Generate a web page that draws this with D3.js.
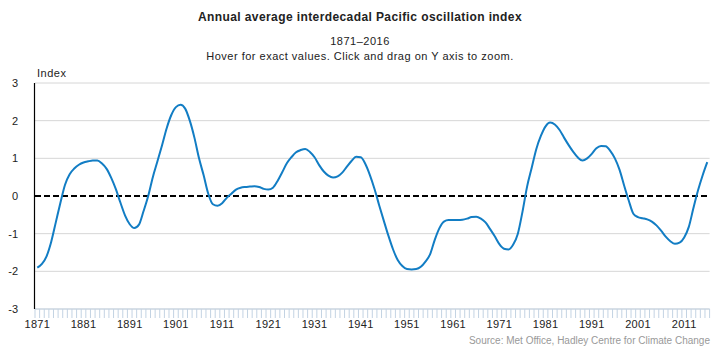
<!DOCTYPE html>
<html>
<head>
<meta charset="utf-8">
<script src="https://cdn.jsdelivr.net/npm/d3@7"></script>
<style>
  body { margin: 0; background: #fff; }
  svg { font-family: "Liberation Sans", Arial, sans-serif; }
</style>
</head>
<body>
<div class="ipo"></div>
<script>
const firstYear = 1871
const lastYear = 2016
const years = d3.range(firstYear, lastYear + 1)

// annual IPO index (1871..2016)
const ipoValues = [
  -1.90, -1.80, -1.60, -1.22, -0.70, -0.18, 0.30, 0.58, 0.73, 0.83,
  0.89, 0.92, 0.94, 0.94, 0.86, 0.72, 0.48, 0.18, -0.18, -0.52,
  -0.75, -0.85, -0.76, -0.40, 0.00, 0.50, 0.92, 1.35, 1.80, 2.15,
  2.36, 2.42, 2.32, 2.00, 1.55, 1.00, 0.55, 0.06, -0.22, -0.26,
  -0.19, -0.05, 0.06, 0.17, 0.22, 0.24, 0.25, 0.26, 0.24, 0.19,
  0.17, 0.22, 0.40, 0.63, 0.87, 1.03, 1.16, 1.22, 1.25, 1.17,
  1.03, 0.82, 0.65, 0.54, 0.49, 0.52, 0.62, 0.78, 0.93, 1.04,
  1.03, 0.85, 0.55, 0.18, -0.25, -0.66, -1.06, -1.42, -1.70, -1.86,
  -1.94, -1.95, -1.94, -1.88, -1.74, -1.55, -1.17, -0.86, -0.68, -0.64,
  -0.64, -0.64, -0.63, -0.60, -0.56, -0.55, -0.60, -0.70, -0.88, -1.07,
  -1.28, -1.40, -1.42, -1.29, -1.00, -0.42, 0.25, 0.75, 1.25, 1.60,
  1.85, 1.95, 1.90, 1.76, 1.55, 1.35, 1.17, 1.02, 0.94, 1.00,
  1.12, 1.27, 1.33, 1.32, 1.20, 1.00, 0.70, 0.28, -0.12, -0.47,
  -0.56, -0.59, -0.62, -0.68, -0.78, -0.92, -1.08, -1.20, -1.27, -1.24,
  -1.10, -0.82, -0.32, 0.15, 0.55, 0.90
]

const yTicks = [-3, -2, -1, 0, 1, 2, 3]
const xLabelYears = d3.range(1871, 2017, 10)

const data = years.map((y, i) => ({ year: y, value: ipoValues[i] }))

const width = 720, height = 349
const margin = { top: 83, right: 10.4, bottom: 40, left: 35 }

const svg = d3.select(".ipo")
  .append("svg")
    .attr("width", width)
    .attr("height", height)

// titles
svg.append("text")
  .attr("x", 360).attr("y", 21)
  .attr("text-anchor", "middle")
  .style("font-size", "12px")
  .style("font-weight", "bold")
  .style("letter-spacing", "0.4px")
  .attr("fill", "#222")
  .text("Annual average interdecadal Pacific oscillation index")

svg.append("text")
  .attr("x", 360).attr("y", 45)
  .attr("text-anchor", "middle")
  .style("font-size", "11px")
  .style("letter-spacing", "0.5px")
  .attr("fill", "#222")
  .text("1871–2016")

svg.append("text")
  .attr("x", 360).attr("y", 60)
  .attr("text-anchor", "middle")
  .style("font-size", "11px")
  .style("letter-spacing", "0.5px")
  .attr("fill", "#222")
  .text("Hover for exact values. Click and drag on Y axis to zoom.")

svg.append("text")
  .attr("x", 37).attr("y", 77)
  .style("font-size", "11px")
  .style("letter-spacing", "0.5px")
  .attr("fill", "#222")
  .text("Index")

const x = d3.scaleBand()
  .domain(years)
  .range([margin.left, width - margin.right])

const y = d3.scaleLinear()
  .domain([-3, 3])
  .range([height - margin.bottom, margin.top])

const xc = d => x(d) + x.bandwidth() / 2

// gridlines
svg.append("g")
  .selectAll("line")
  .data(yTicks.filter(d => d != 0))
  .join("line")
    .attr("x1", margin.left)
    .attr("x2", width - margin.right)
    .attr("y1", d => y(d))
    .attr("y2", d => y(d))
    .attr("stroke", "#d6d6d6")
    .attr("stroke-width", 1)

// y axis labels
svg.append("g")
  .selectAll("text")
  .data(yTicks)
  .join("text")
    .attr("x", 18)
    .attr("y", d => y(d) + 4)
    .attr("text-anchor", "end")
    .style("font-size", "11px")
    .attr("fill", "#222")
    .text(d => d)

// x axis: a tick at every year boundary
const xAxisY = y(-3)
svg.append("g")
  .selectAll("line")
  .data(d3.range(years.length + 1))
  .join("line")
    .attr("x1", i => margin.left + i * x.step())
    .attr("x2", i => margin.left + i * x.step())
    .attr("y1", xAxisY)
    .attr("y2", xAxisY + 9)
    .attr("stroke", "#c3d3e3")
    .attr("stroke-width", 1)

svg.append("line")
  .attr("x1", margin.left).attr("x2", width - margin.right)
  .attr("y1", xAxisY).attr("y2", xAxisY)
  .attr("stroke", "#c3d3e3")

svg.append("g")
  .selectAll("text")
  .data(xLabelYears)
  .join("text")
    .attr("x", d => xc(d))
    .attr("y", 328)
    .attr("text-anchor", "middle")
    .style("font-size", "11px")
    .style("letter-spacing", "0.3px")
    .attr("fill", "#222")
    .text(d => d)

// y axis line
svg.append("line")
  .attr("x1", margin.left - 0.5).attr("x2", margin.left - 0.5)
  .attr("y1", y(3)).attr("y2", xAxisY)
  .attr("stroke", "#000")
  .attr("stroke-width", 1.2)

// zero line
svg.append("line")
  .attr("x1", margin.left).attr("x2", width - margin.right)
  .attr("y1", y(0)).attr("y2", y(0))
  .attr("stroke", "#000")
  .attr("stroke-width", 2)
  .attr("stroke-dasharray", "6,3")

// the IPO line
svg.append("path")
  .datum(data)
  .attr("fill", "none")
  .attr("stroke", "#127dc4")
  .attr("stroke-width", 2)
  .attr("stroke-linejoin", "round")
  .attr("d", d3.line()
    .x(d => xc(d.year))
    .y(d => y(d.value))
    .curve(d3.curveMonotoneX))

// source
svg.append("text")
  .attr("x", 710).attr("y", 344)
  .attr("text-anchor", "end")
  .style("font-size", "10px")
  .attr("fill", "#999")
  .text("Source: Met Office, Hadley Centre for Climate Change")
</script>
</body>
</html>
